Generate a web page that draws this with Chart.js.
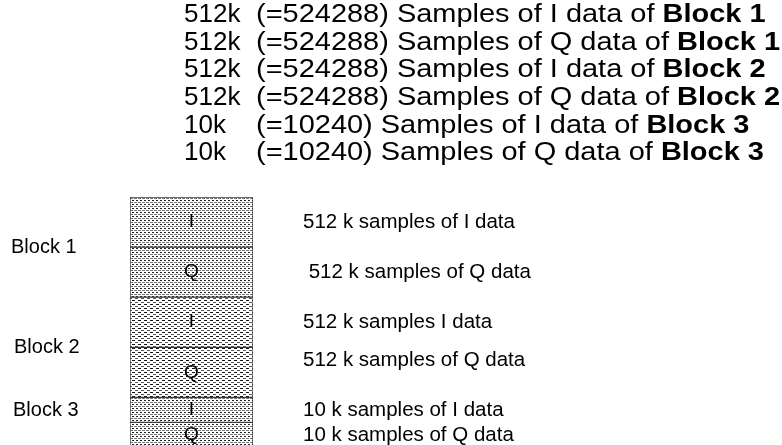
<!DOCTYPE html>
<html>
<head>
<meta charset="utf-8">
<script src="https://cdn.jsdelivr.net/npm/chart.js@4"></script>
<style>
  body { margin: 0; background: #fff; }
  canvas { display: block; }
</style>
</head>
<body>
<canvas id="memChart" width="782" height="445"></canvas>
<script>
// memory layout: one stacked column, top to bottom
const channels = ['I', 'Q', 'I', 'Q', 'I', 'Q'];
const blocks = ['Block 1', 'Block 1', 'Block 2', 'Block 2', 'Block 3', 'Block 3'];
const segmentHeights = [2, 2, 2, 2, 1, 1];
const sampleCounts = ['512k', '512k', '512k', '512k', '10k', '10k'];
const exactCounts = [524288, 524288, 524288, 524288, 10240, 10240];
const sideNotes = ['512 k samples of I data', ' 512 k samples of Q data', '512 k samples I data',
  '512 k samples of Q data', '10 k samples of I data', '10 k samples of Q data'];
const blockNames = ['Block 1', 'Block 2', 'Block 3'];

const FONT = '"Liberation Sans", Arial, sans-serif';

function makePattern(kind) {
  const c = document.createElement('canvas');
  const p = c.getContext('2d');
  if (kind === 'dots') {
    c.width = 4; c.height = 4;
    p.fillStyle = '#fff'; p.fillRect(0, 0, 4, 4);
    p.fillStyle = '#222';
    p.fillRect(0, 0, 2, 1);
    p.fillStyle = '#777';
    p.fillRect(2, 2, 2, 1);
    p.fillRect(0, 2, 1, 1);
  } else {
    c.width = 6; c.height = 4;
    p.fillStyle = '#fff'; p.fillRect(0, 0, 6, 4);
    p.fillStyle = '#111';
    p.fillRect(0, 0, 3, 1);
    p.fillStyle = '#555';
    p.fillRect(3, 2, 3, 1);
  }
  return p.createPattern(c, 'repeat');
}

const dotFill = makePattern('dots');
const dashFill = makePattern('dashes');

const datasets = segmentHeights.map((h, i) => ({
  label: blocks[i] + ' ' + channels[i],
  data: [h],
  stack: 'mem',
  backgroundColor: blocks[i] === 'Block 2' ? dashFill : dotFill,
  borderColor: '#3c3c3c',
  borderWidth: 1,
  borderSkipped: false,
  barPercentage: 1,
  categoryPercentage: 1
}));

// texts drawn next to the column
const labelPlugin = {
  id: 'labelPlugin',
  afterDraw: function(chart) {
    const ctx = chart.ctx;
    ctx.save();
    ctx.fillStyle = '#000';
    ctx.textBaseline = 'middle';

    // header lines, the widest one (Q line of block 1) reaches the right edge
    const headX = 256, headEnd = 780;
    const descs = channels.map((ch, i) => '(=' + exactCounts[i] + ') Samples of ' + ch + ' data of ');
    ctx.font = '26px ' + FONT;
    const w1 = ctx.measureText(descs[1]).width;
    ctx.font = 'bold 26px ' + FONT;
    const sx = (headEnd - headX) / (w1 + ctx.measureText(blocks[1]).width);
    for (let i = 0; i < channels.length; i++) {
      const y = 15 + i * 27.6;
      ctx.textAlign = 'left';
      ctx.font = '26px ' + FONT;
      ctx.fillText(sampleCounts[i], 184, y);
      ctx.save();
      ctx.translate(headX, y);
      ctx.scale(sx, 1);
      ctx.fillText(descs[i], 0, 0);
      const w = ctx.measureText(descs[i]).width;
      ctx.font = 'bold 26px ' + FONT;
      ctx.fillText(blocks[i], w, 0);
      ctx.restore();
    }

    // segment letters and side notes
    const spans = [];
    chart.data.datasets.forEach((ds, i) => {
      const bar = chart.getDatasetMeta(i).data[0];
      const top = Math.min(bar.y, bar.base);
      const bottom = Math.max(bar.y, bar.base);
      const cy = (top + bottom) / 2;
      spans.push({ top: top, bottom: bottom });
      ctx.font = '19px ' + FONT;
      ctx.textAlign = 'center';
      ctx.fillText(channels[i], bar.x, cy);
      ctx.font = '20.5px ' + FONT;
      ctx.textAlign = 'left';
      const nudge = i === 3 ? -12 : 0;
      ctx.fillText(sideNotes[i], chart.chartArea.right + 50, cy + nudge);
    });

    // block names on the left
    ctx.font = '20px ' + FONT;
    ctx.textAlign = 'left';
    const xs = [11, 14, 13];
    blockNames.forEach((name, b) => {
      const segs = spans.filter((s, i) => blocks[i] === name);
      let cy = (segs[0].top + segs[segs.length - 1].bottom) / 2;
      if (b === 2) cy -= 12;
      ctx.fillText(name, xs[b], cy);
    });
    ctx.restore();
  }
};

new Chart(document.getElementById('memChart'), {
  type: 'bar',
  data: { labels: ['memory'], datasets: datasets },
  options: {
    responsive: false,
    animation: false,
    layout: { padding: { left: 130, right: 529, top: 197, bottom: 0 } },
    scales: {
      x: { display: false, stacked: true },
      y: { display: false, stacked: true, reverse: true, min: 0, max: 9.9 }
    },
    plugins: {
      legend: { display: false },
      tooltip: { enabled: false }
    }
  },
  plugins: [labelPlugin]
});
</script>
</body>
</html>
